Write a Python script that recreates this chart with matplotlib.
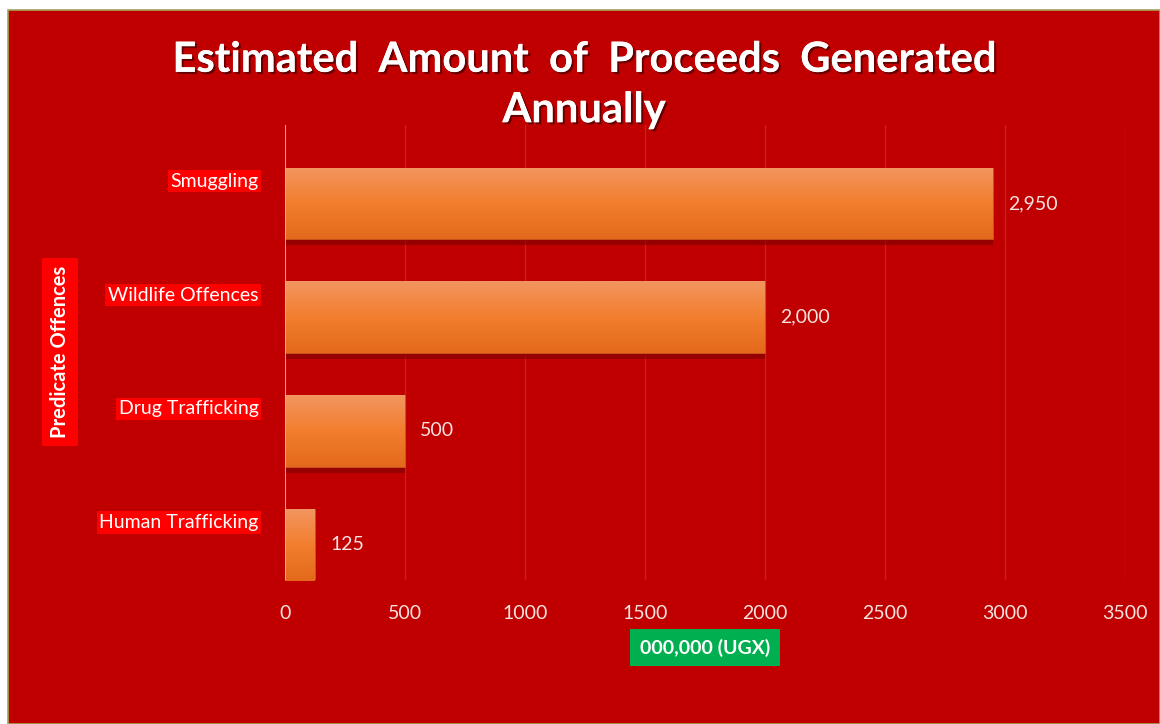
import matplotlib
matplotlib.use('Agg')
import matplotlib.pyplot as plt
import matplotlib.patheffects as pe
from matplotlib.patches import Rectangle
from matplotlib.colors import LinearSegmentedColormap
import numpy as np

plt.rcParams['font.family'] = ['Lato', 'DejaVu Sans']

categories = ['Smuggling', 'Wildlife Offences', 'Drug Trafficking', 'Human Trafficking']
values = [2950, 2000, 500, 125]
value_labels = ['2,950', '2,000', '500', '125']
x_ticks = [0, 500, 1000, 1500, 2000, 2500, 3000, 3500]

BG = '#C00000'
TXT = '#F6E2E0'

fig = plt.figure(figsize=(11.6, 7.24), dpi=100)
fig.patch.set_facecolor('white')
# red chart area with thin border
fig.patches.append(Rectangle((8 / 1160, 0), 1 - 8 / 1160, 1 - 10 / 724,
                             transform=fig.transFigure, facecolor=BG,
                             edgecolor='#A3A55A', linewidth=1.2, zorder=-10))

ax = fig.add_axes([285 / 1160, 1 - 580 / 724, 840 / 1160, 455 / 724])
ax.set_facecolor(BG)
ax.patch.set_alpha(0)

ypos = np.arange(len(categories))
h = 0.63
grad = LinearSegmentedColormap.from_list('bar', ['#E4691C', '#F27E2E', '#F3955F'])
gimg = np.linspace(0, 1, 64).reshape(-1, 1)

# shadow under bars
ax.barh(ypos + 0.05, values, height=h, color='#7A0000', alpha=0.6, zorder=2)
bars = ax.barh(ypos, values, height=h, color='#F07F30', edgecolor='#C8561A',
               linewidth=0.6, zorder=3)
for b in bars:
    x0, y0 = b.get_x(), b.get_y()
    im = ax.imshow(gimg, extent=[x0, x0 + b.get_width(), y0 + b.get_height(), y0],
                   origin='lower', cmap=grad, aspect='auto', zorder=4)
    im.set_clip_path(b)

for y, v, lab in zip(ypos, values, value_labels):
    ax.annotate(lab, (v, y), xytext=(11, 0), textcoords='offset points',
                va='center', ha='left', color=TXT, fontsize=14)

# category labels sit a bit above the bar centre, on bright red boxes
for y, cat in zip(ypos, categories):
    ax.annotate(cat, (0, y), xycoords=('axes fraction', 'data'),
                xytext=(-19, 16), textcoords='offset points',
                ha='right', va='center', color='white', fontsize=14,
                bbox=dict(facecolor='#FF0000', edgecolor='none', pad=2))

ax.set_xlim(0, 3500)
ax.set_ylim(3 + 0.31, -0.69)
ax.set_xticks(x_ticks)
ax.set_xticklabels([str(t) for t in x_ticks], color=TXT, fontsize=14)
ax.set_yticks([])
ax.tick_params(axis='both', length=0)
ax.tick_params(axis='x', pad=18)

ax.grid(axis='x', color='#CB1E1E', linewidth=1, zorder=0)
ax.set_axisbelow(True)
for s in ax.spines.values():
    s.set_visible(False)
ax.axvline(0, color='#E9B8B8', linewidth=1.2, zorder=5)

ax.set_xlabel('000,000 (UGX)', color='white', fontsize=14, fontweight='bold',
              labelpad=12,
              bbox=dict(facecolor='#00B050', edgecolor='none', pad=7))

fig.text(60 / 1160, 1 - 352 / 724, 'Predicate Offences', rotation=90,
         ha='center', va='center', color='white', fontsize=14.5, fontweight='bold',
         bbox=dict(facecolor='#FF0000', edgecolor='none', pad=6))

title = fig.text(584 / 1160, 1 - 85 / 724,
                 'Estimated  Amount  of  Proceeds  Generated\nAnnually',
                 ha='center', va='center', color='white', fontsize=30,
                 fontweight='bold', linespacing=1.4)
title.set_path_effects([pe.withSimplePatchShadow(offset=(1.5, -1.5), shadow_rgbFace='#500000', alpha=0.8),
                        pe.Normal()])

fig.savefig('out.png', dpi=100, facecolor=fig.get_facecolor())
